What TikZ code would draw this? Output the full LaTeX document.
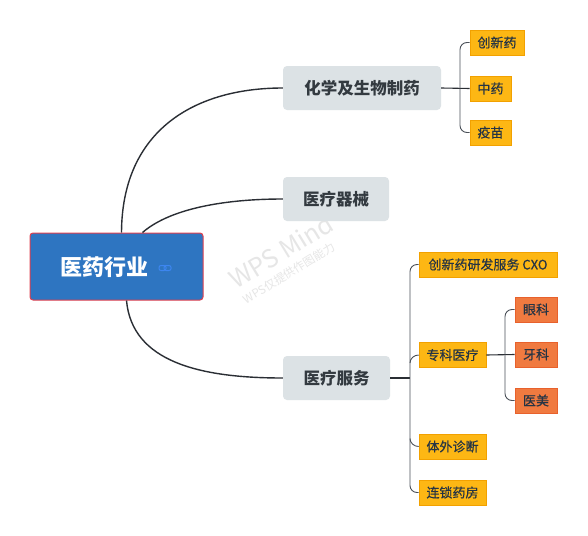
\documentclass[tikz,border=0pt]{standalone}
\usepackage{fontspec}
\setmainfont{Noto Sans CJK SC}
\newfontfamily\leaffont{Noto Sans CJK SC}[FakeBold=0.5]
\usetikzlibrary{calc}
\definecolor{rootblue}{HTML}{2E75C1}
\definecolor{rootborder}{HTML}{E0404F}
\definecolor{graybox}{HTML}{DCE2E5}
\definecolor{graytext}{HTML}{333A40}
\definecolor{leaforange}{HTML}{FDB714}
\definecolor{leafborder}{HTML}{F2A100}
\definecolor{leaftext}{HTML}{253444}
\definecolor{redleaf}{HTML}{F07A40}
\definecolor{redborder}{HTML}{E8612C}
\definecolor{linecol}{HTML}{2A2E34}
\definecolor{brcol}{HTML}{4A5058}
\definecolor{linkblue}{HTML}{3D86F0}
\definecolor{wm}{HTML}{E6E6E6}
\begin{document}
\begin{tikzpicture}[x=1pt,y=-1pt,
  rootbox/.style={draw=rootborder, line width=1pt, fill=rootblue, rounded corners=3pt, minimum width=173pt, minimum height=67pt, inner sep=0pt},
  topic/.style={fill=graybox, rounded corners=4pt, minimum height=44pt, inner sep=0pt, text=graytext, font=\fontsize{16.5}{18}\selectfont\bfseries},
  leaf/.style={draw=leafborder, line width=0.6pt, fill=leaforange, minimum height=25pt, inner xsep=7.5pt, inner ysep=0pt, text=leaftext, font=\fontsize{13}{15}\leaffont},
  redbox/.style={draw=redborder, line width=0.6pt, fill=redleaf, minimum height=25pt, minimum width=42pt, inner sep=0pt, text=leaftext, font=\fontsize{13}{15}\leaffont},
  conn/.style={draw=linecol, line width=1.4pt},
  br/.style={draw=brcol, line width=0.9pt, rounded corners=7pt},
  brc/.style={draw=brcol, line width=0.9pt},
  wmtext/.style={text=wm, rotate=31.5, inner sep=0pt}
]
\useasboundingbox (0,0) rectangle (588,535);
\fill[white] (0,0) rectangle (588,535);

% watermark
\node[wmtext, font=\fontsize{25}{27}\selectfont] (wm1) at (281,251) {WPS Mind};
\node[wmtext, font=\fontsize{11.5}{13}\selectfont] (wm2) at (289,273) {WPS仅提供作图能力};

% nodes
\node[rootbox] (root) at (116.5,266.5) {};
\node[text=white, font=\fontsize{22}{24}\selectfont\bfseries] (roottext) at (104,267) {医药行业};
\node[topic, minimum width=158pt] (chem) at (362,88) {化学及生物制药};
\node[topic, minimum width=106pt] (dev) at (336,199) {医疗器械};
\node[topic, minimum width=107pt] (svc) at (336.5,378) {医疗服务};

\node[leaf] (l1) at (497,42.5) {创新药};
\node[leaf] (l2) at (490.5,88.5) {中药};
\node[leaf] (l3) at (490.5,132.5) {疫苗};

\node[leaf, minimum width=138pt] (s1) at (488,264.5) {创新药研发服务 CXO};
\node[leaf] (s2) at (452.5,355) {专科医疗};
\node[leaf] (s3) at (452.5,446.5) {体外诊断};
\node[leaf] (s4) at (452.5,492.5) {连锁药房};

\node[redbox] (e1) at (536,309.5) {眼科};
\node[redbox] (e2) at (536,354.5) {牙科};
\node[redbox] (e3) at (536,400.5) {医美};

% link icon
\draw[linkblue, line width=1pt, rounded corners=2pt] (159,265.5) rectangle (166,270.5);
\draw[linkblue, line width=1pt, rounded corners=2pt] (164,265.5) rectangle (171,270.5);

% root connectors
\coordinate (r1) at ($(root.north west)+(92,0)$);
\coordinate (r2) at ($(root.north west)+(113,0)$);
\coordinate (r3) at ($(root.south west)+(97,0)$);
\draw[conn] (r1) .. controls (122,130) and (195,88) .. (chem.west);
\draw[conn] (r2) .. controls (172,207) and (230,199) .. (dev.west);
\draw[conn] (r3) .. controls (132,362) and (200,378) .. (svc.west);

% top bracket
\coordinate (bt) at (460,88);
\draw[conn, line width=1.1pt] (chem.east) -- (l2.west);
\draw[br] (l1.west) -| (bt) |- (l3.west);

% service bracket
\coordinate (bs) at (410,378);
\draw[conn, line width=1.1pt] (svc.east) -- (bs);
\draw[br] (s1.west) -| (bs) |- (s4.west);
\coordinate (bs2) at (410,363);
\coordinate (bs3) at (410,438.5);
\draw[brc] (bs2) to[out=90,in=180] (s2.west);
\draw[brc] (bs3) to[out=-90,in=180] (s3.west);

% specialty bracket
\coordinate (be) at (505,355);
\draw[conn, line width=1.1pt] (s2.east) -- (e2.west);
\draw[br] (e1.west) -| (be) |- (e3.west);
\end{tikzpicture}
\end{document}
